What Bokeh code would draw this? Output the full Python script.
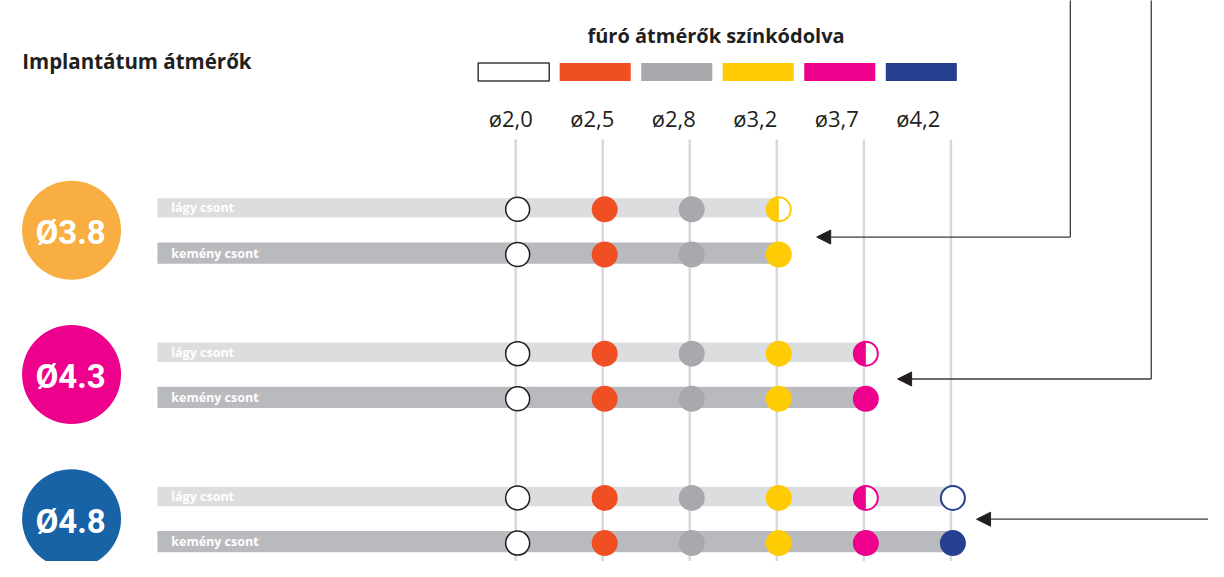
import math
from bokeh.plotting import figure
from bokeh.models import Range1d, Arrow, NormalHead
from bokeh.core.properties import value
from bokeh.embed import file_html
from bokeh.resources import INLINE

# ---------------- data ----------------
title_left = "Implantátum átmérők"
legend_title = "fúró átmérők színkódolva"
drill_labels = ["ø2,0", "ø2,5", "ø2,8", "ø3,2", "ø3,7", "ø4,2"]
drill_colors = ["#ffffff", "#f04e23", "#a7a9ac", "#ffcb05", "#ec008c", "#263f8f"]
implant_labels = ["Ø3.8", "Ø4.3", "Ø4.8"]
implant_colors = ["#f9ae42", "#ec008c", "#1763a6"]
bone_types = ["lágy csont", "kemény csont"]
# F = full drill, H = half (partial) drill, O = optional (outline), "" = not used
usage_soft = [
    ["F", "F", "F", "H", "", ""],
    ["F", "F", "F", "F", "H", ""],
    ["F", "F", "F", "F", "H", "O"],
]
usage_hard = [
    ["F", "F", "F", "F", "", ""],
    ["F", "F", "F", "F", "F", ""],
    ["F", "F", "F", "F", "F", "F"],
]

# ---------------- layout ----------------
W, H = 1208, 561
VW, VH = 1224, 577          # virtual canvas the layout is measured in
def Y(ypx):
    return VH - ypx

col_x0, col_dx = 522, 88.2
circ_dx = 2
leg_x0, leg_dx, leg_w, leg_h, leg_y = 520, 82.6, 72, 18.5, 73.5
g_y0, g_dy, hard_off = 213.3, 148.4, 46.5
bar_left = 159
TXT = "#231f20"

p = figure(width=W, height=H, output_backend="svg", toolbar_location=None,
           x_range=Range1d(0, VW), y_range=Range1d(0, VH),
           x_axis_type=None, y_axis_type=None, min_border=0)
p.outline_line_color = None
p.xgrid.visible = False
p.ygrid.visible = False
p.background_fill_color = "white"
p.border_fill_color = "white"

ncol = len(drill_labels)
col_x = [col_x0 + i * col_dx for i in range(ncol)]

# titles
p.text(x=[22], y=[Y(62.5)], text=[title_left], text_font=value("Open Sans"),
       text_font_style="bold", text_font_size="20.5px", text_color=TXT,
       text_align="left", text_baseline="alphabetic")
p.text(x=[725], y=[Y(36.5)], text=[legend_title], text_font=value("Open Sans"),
       text_font_style="bold", text_font_size="20px", text_color=TXT,
       text_align="center", text_baseline="alphabetic")

# legend swatches and labels
leg_x = [leg_x0 + i * leg_dx for i in range(ncol)]
p.rect(x=leg_x, y=[Y(leg_y)] * ncol, width=leg_w, height=leg_h,
       fill_color=drill_colors,
       line_color=["#3a3a3a"] + [None] * (ncol - 1), line_width=1.5)
p.text(x=[x - 3 for x in leg_x], y=[Y(121)] * ncol, text=drill_labels,
       text_font=value("Open Sans"), text_font_size="22px", text_color=TXT,
       text_align="center", text_baseline="alphabetic")

# vertical guide lines
p.segment(x0=col_x, y0=[Y(143)] * ncol, x1=col_x, y1=[Y(590)] * ncol,
          line_color="#d7d8da", line_width=2.5)

# groups
for gi, (lab, col) in enumerate(zip(implant_labels, implant_colors)):
    gy = g_y0 + gi * g_dy
    cy = gy + 23
    p.scatter(x=[72], y=[Y(cy)], size=99, fill_color=col, line_color=None)
    p.text(x=[71], y=[Y(cy + 2.5)], text=[lab], text_font=value("Roboto"),
           text_font_style="bold", text_font_size="33px", text_color="white",
           text_align="center", text_baseline="middle")
    for bi, (bone, usage) in enumerate(zip(bone_types, [usage_soft[gi], usage_hard[gi]])):
        ry = gy + bi * hard_off
        last = max(i for i, u in enumerate(usage) if u)
        bar_h = 20 if bi == 0 else 22
        bar_c = "#dcdddf" if bi == 0 else "#b9babd"
        p.hbar(y=[Y(ry)], left=[bar_left], right=[col_x[last] + circ_dx],
               height=bar_h, fill_color=bar_c, line_color=None)
        p.text(x=[173], y=[Y(ry)], text=[bone], text_font=value("Open Sans"),
               text_font_style="bold", text_font_size="12.5px", text_color="white",
               text_align="left", text_baseline="middle")
        cyc = ry + 1.5
        for ci, u in enumerate(usage):
            if not u:
                continue
            cx = col_x[ci] + circ_dx
            dc = drill_colors[ci]
            if ci == 0:
                p.scatter(x=[cx], y=[Y(cyc)], size=24, fill_color="white",
                          line_color=TXT, line_width=1.5)
            elif u == "F":
                p.scatter(x=[cx], y=[Y(cyc)], size=26, fill_color=dc, line_color=None)
            elif u == "H":
                p.scatter(x=[cx], y=[Y(cyc)], size=24, fill_color="white",
                          line_color=dc, line_width=2)
                p.wedge(x=[cx], y=[Y(cyc)], radius=12, start_angle=math.pi / 2,
                        end_angle=3 * math.pi / 2, fill_color=dc, line_color=None)
            elif u == "O":
                p.scatter(x=[cx], y=[Y(cyc)], size=24, fill_color="white",
                          line_color=dc, line_width=2)

# pointer arrows
LC = "#3b3b3b"
p.segment(x0=[1084, 1166], y0=[Y(-5), Y(-5)], x1=[1084, 1166], y1=[Y(243.3), Y(389.3)],
          line_color=LC, line_width=1.3)
for xs, ys, xe in [(1084, 243.3, 827), (1166, 389.3, 909), (1240, 533.5, 989)]:
    p.add_layout(Arrow(end=NormalHead(size=14, fill_color=TXT, line_color=TXT, line_width=1),
                       x_start=xs, y_start=Y(ys), x_end=xe, y_end=Y(ys),
                       line_color=LC, line_width=1.3))

open("out.html", "w").write(file_html(p, INLINE))
